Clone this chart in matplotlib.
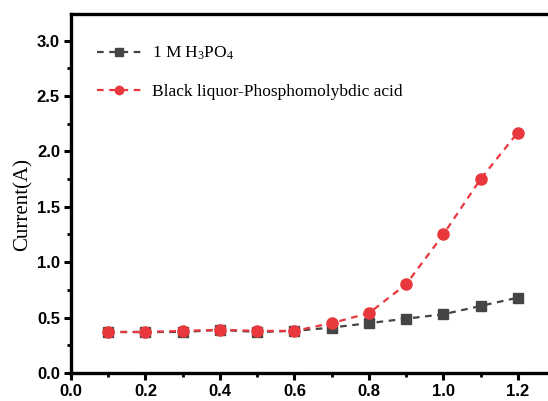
import numpy as np
import matplotlib.pyplot as plt
from matplotlib.ticker import MultipleLocator

plt.rcParams['mathtext.default'] = 'regular'

potential = [0.1, 0.2, 0.3, 0.4, 0.5, 0.6, 0.7, 0.8, 0.9, 1.0, 1.1, 1.2]
h3po4 = [0.37, 0.37, 0.37, 0.39, 0.37, 0.38, 0.41, 0.45, 0.49, 0.53, 0.605, 0.68]
black_liquor = [0.37, 0.37, 0.38, 0.39, 0.38, 0.38, 0.45, 0.54, 0.80, 1.25, 1.75, 2.17]
labels = ["1 M H$_3$PO$_4$", "Black liquor-Phosphomolybdic acid"]

fig = plt.figure(figsize=(5.48, 4.01), dpi=100)
ax = fig.add_axes([71/548, 1 - 373/401, 484/548, 359/401])

ax.plot(potential, h3po4, ls=(0, (3, 2.5)), lw=1.6, color='#454545',
        marker='s', ms=7.5, label=labels[0])
ax.plot(potential, black_liquor, ls=(0, (3, 2.5)), lw=1.6, color='#e8383d',
        marker='o', ms=8, label=labels[1])

ax.set_xlim(0, 1.3)
ax.set_ylim(0, 3.24)
ax.xaxis.set_major_locator(MultipleLocator(0.2))
ax.xaxis.set_minor_locator(MultipleLocator(0.1))
ax.yaxis.set_major_locator(MultipleLocator(0.5))
ax.yaxis.set_minor_locator(MultipleLocator(0.25))

for s in ax.spines.values():
    s.set_linewidth(2.4)
ax.tick_params(which='major', direction='out', length=5, width=2.2, pad=3)
ax.tick_params(which='minor', direction='out', length=3, width=2)
for t in ax.get_xticklabels() + ax.get_yticklabels():
    t.set_fontfamily('Liberation Sans')
    t.set_fontweight('bold')
    t.set_fontsize(12)

ax.set_ylabel("Current(A)", family='Liberation Serif', fontsize=15)
ax.yaxis.set_label_coords(-0.08, 0.468)

leg = ax.legend(loc='upper left', bbox_to_anchor=(0.039, 0.933), frameon=False,
                prop={'family': 'Liberation Serif', 'size': 12.5},
                handlelength=2.6, labelspacing=1.25, handletextpad=0.58,
                markerscale=0.75, borderaxespad=0)

fig.savefig("out.png", dpi=100)
